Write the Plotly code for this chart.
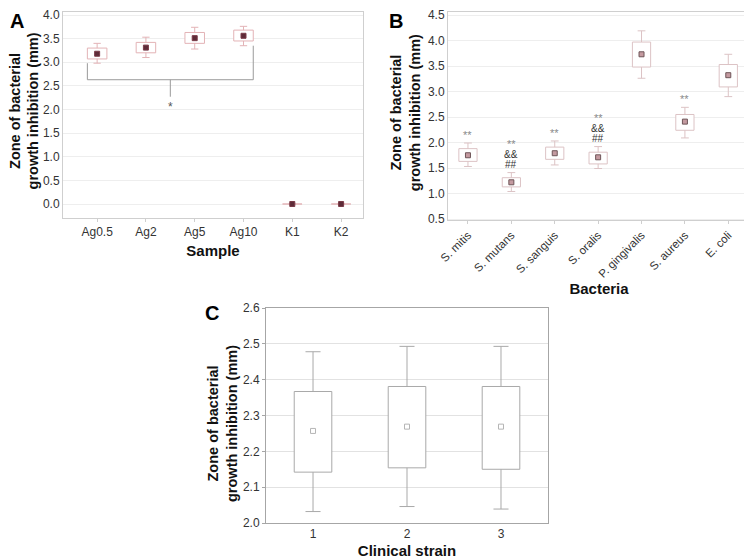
import plotly.graph_objects as go

# ---- panel A: silver samples ----
a_samples = ["Ag0.5", "Ag2", "Ag5", "Ag10", "K1", "K2"]
a_mean = [3.18, 3.31, 3.51, 3.56, 0.0, 0.0]
a_box_lo = [3.07, 3.20, 3.40, 3.45, 0.0, 0.0]
a_box_hi = [3.30, 3.42, 3.63, 3.68, 0.0, 0.0]
a_wh_lo = [2.98, 3.10, 3.28, 3.35, 0.0, 0.0]
a_wh_hi = [3.40, 3.53, 3.74, 3.76, 0.0, 0.0]
a_bracket_from, a_bracket_to = 0, 3
a_bracket_level = 2.63
a_bracket_stem = 2.27
a_bracket_label = "*"

# ---- panel B: bacteria ----
b_bacteria = ["S. mitis", "S. mutans", "S. sanguis", "S. oralis",
              "P. gingivalis", "S. aureus", "E. coli"]
b_mean = [1.75, 1.22, 1.79, 1.71, 3.73, 2.41, 3.32]
b_box_lo = [1.63, 1.13, 1.67, 1.58, 3.48, 2.24, 3.09]
b_box_hi = [1.88, 1.31, 1.91, 1.81, 3.97, 2.55, 3.53]
b_wh_lo = [1.53, 1.04, 1.56, 1.49, 3.26, 2.09, 2.90]
b_wh_hi = [1.99, 1.41, 2.03, 1.92, 4.19, 2.69, 3.73]
b_marks = [["**"], ["**", "&&", "##"], ["**"], ["**", "&&", "##"],
           [], ["**"], []]

# ---- panel C: clinical strains ----
c_strains = [1, 2, 3]
c_mean = [2.257, 2.269, 2.269]
c_box_lo = [2.142, 2.154, 2.150]
c_box_hi = [2.367, 2.381, 2.381]
c_wh_lo = [2.032, 2.046, 2.039]
c_wh_hi = [2.478, 2.493, 2.493]

FONT = "Liberation Sans, Arial, sans-serif"

fig = go.Figure()


def add_boxes(xs, lo, hi, wlo, whi, mean, xa, ya, line_col, hw, cw,
              msym, msize, mfill, mline):
    # box outline (no median line, the mean is the marker)
    bx, by = [], []
    for x, l, h in zip(xs, lo, hi):
        bx += [x - hw, x + hw, x + hw, x - hw, x - hw, None]
        by += [l, l, h, h, l, None]
    fig.add_trace(go.Scatter(
        x=bx, y=by, mode="lines", fill="toself", fillcolor="white",
        line=dict(color=line_col, width=1), xaxis=xa, yaxis=ya,
        hoverinfo="skip"
    ))
    # whiskers with caps
    wx, wy = [], []
    for x, l, h, a, b in zip(xs, lo, hi, wlo, whi):
        wx += [x, x, None, x, x, None,
               x - cw, x + cw, None, x - cw, x + cw, None]
        wy += [h, b, None, l, a, None, b, b, None, a, a, None]
    fig.add_trace(go.Scatter(
        x=wx, y=wy, mode="lines", line=dict(color=line_col, width=1),
        xaxis=xa, yaxis=ya, hoverinfo="skip"
    ))
    fig.add_trace(go.Scatter(
        x=xs, y=mean, mode="markers",
        marker=dict(symbol=msym, size=msize, color=mfill,
                    line=dict(color=mline, width=1)),
        xaxis=xa, yaxis=ya, hoverinfo="skip"
    ))


add_boxes(list(range(len(a_samples))), a_box_lo, a_box_hi, a_wh_lo, a_wh_hi,
          a_mean, "x", "y", "#e3b3b6", 0.2, 0.075,
          "square", 5, "#5e2b38", "#7a3b48")
add_boxes(list(range(len(b_bacteria))), b_box_lo, b_box_hi, b_wh_lo, b_wh_hi,
          b_mean, "x2", "y2", "#dcc3c5", 0.21, 0.09,
          "square", 5, "#c49aa0", "#6e5558")
add_boxes(c_strains, c_box_lo, c_box_hi, c_wh_lo, c_wh_hi,
          c_mean, "x3", "y3", "#a9a9a9", 0.2, 0.08,
          "square-open", 5, "#b5b5b5", "#b5b5b5")

# significance bracket in panel A
bx0 = a_bracket_from - 0.2
bx1 = a_bracket_to + 0.2
bmid = (bx0 + bx1) / 2
brk = dict(color="#9a9a9a", width=1)
fig.add_shape(type="line", xref="x", yref="y", x0=bx0, x1=bx0,
              y0=a_wh_lo[a_bracket_from], y1=a_bracket_level, line=brk)
fig.add_shape(type="line", xref="x", yref="y", x0=bx1, x1=bx1,
              y0=a_wh_lo[a_bracket_to], y1=a_bracket_level, line=brk)
fig.add_shape(type="line", xref="x", yref="y", x0=bx0, x1=bx1,
              y0=a_bracket_level, y1=a_bracket_level, line=brk)
fig.add_shape(type="line", xref="x", yref="y", x0=bmid, x1=bmid,
              y0=a_bracket_level, y1=a_bracket_stem, line=brk)
fig.add_annotation(x=bmid, y=a_bracket_stem, xref="x", yref="y",
                   text=a_bracket_label, showarrow=False, yanchor="top",
                   yshift=-1, font=dict(size=12, color="#555555"))

# significance marks in panel B
for i, marks in enumerate(b_marks):
    for k, m in enumerate(reversed(marks)):
        fig.add_annotation(
            x=i, y=b_wh_hi[i], xref="x2", yref="y2", text=m,
            showarrow=False, yanchor="middle", yshift=8 + 10.5 * k,
            font=dict(size=11 if m == "**" else 10,
                      color="#8a8a8a" if m == "**" else "#333333")
        )

# panel letters
for letter, lx, ly in [("A", 0.0, 1.0), ("B", 0.5094, 1.0),
                       ("C", 0.262, 0.47)]:
    fig.add_annotation(text=letter, x=lx, y=ly, xref="paper", yref="paper",
                       xanchor="left", yanchor="top", showarrow=False,
                       font=dict(size=20, color="black", weight="bold"))

tick_font = dict(size=12, color="#333333", family=FONT)
title_font = dict(size=15, color="#111111", family=FONT, weight="bold")
ytitle = "Zone of bacterial<br>growth inhibition (mm)"

# y-axis titles, placed by hand so they sit close to the tick labels
for tx, ty in [(0.0215, 0.814), (0.5336, 0.811), (0.2883, 0.2459)]:
    fig.add_annotation(text=ytitle, x=tx, y=ty, xref="paper", yref="paper",
                       xanchor="center", yanchor="middle", textangle=-90,
                       showarrow=False, font=dict(title_font, size=14.5))


def ax(frame, grid, **kw):
    d = dict(showline=True, linecolor=frame, linewidth=1, mirror=True,
             ticks="outside", ticklen=3, tickcolor=frame, automargin=False,
             zeroline=False, tickfont=tick_font, fixedrange=True,
             ticklabeloverflow="allow")
    d.update(showgrid=grid is not None, gridcolor=grid or "white")
    d.update(kw)
    return d


# the page body keeps an 8 px margin, so the figure is 8 px smaller
fig.update_layout(
    width=744, height=551,
    margin=dict(l=0, r=0, t=0, b=0),
    paper_bgcolor="white", plot_bgcolor="white",
    showlegend=False,
    font=dict(family=FONT, color="#333333"),
    xaxis=ax("#cfcfcf", None, domain=[0.0739, 0.4772], anchor="y",
             range=[-0.7, 5.45], tickmode="array",
             tickvals=list(range(len(a_samples))), ticktext=a_samples,
             title=dict(text="Sample", font=title_font, standoff=7)),
    yaxis=ax("#cfcfcf", "#eeeeee", domain=[0.6189, 0.9927], anchor="x",
             range=[-0.296, 4.063], dtick=0.5, tickformat=".1f", ticks=""),
    xaxis2=ax("#cfcfcf", None, domain=[0.5914, 0.9973], anchor="y2",
              range=[-0.46, 6.5], tickmode="array",
              tickvals=list(range(len(b_bacteria))), ticktext=b_bacteria,
              tickangle=-45, tickfont=dict(tick_font, size=11.5),
              title=dict(text="Bacteria", font=title_font, standoff=0)),
    yaxis2=ax("#cfcfcf", "#eeeeee", domain=[0.6152, 0.9927], anchor="x2",
              range=[0.48, 4.559], dtick=0.5, tickformat=".1f", ticks=""),
    xaxis3=ax("#a6a6a6", None, domain=[0.3468, 0.7258], anchor="y3",
              range=[0.5, 3.5], tickmode="array", tickvals=c_strains,
              ticktext=[str(s) for s in c_strains], ticks="",
              title=dict(text="Clinical strain", font=title_font, standoff=13)),
    yaxis3=ax("#a6a6a6", "#e2e2e2", domain=[0.0653, 0.4555], anchor="x3",
              range=[2.0, 2.6], dtick=0.1, tickformat=".1f"),
)

fig.write_html("out.html")
